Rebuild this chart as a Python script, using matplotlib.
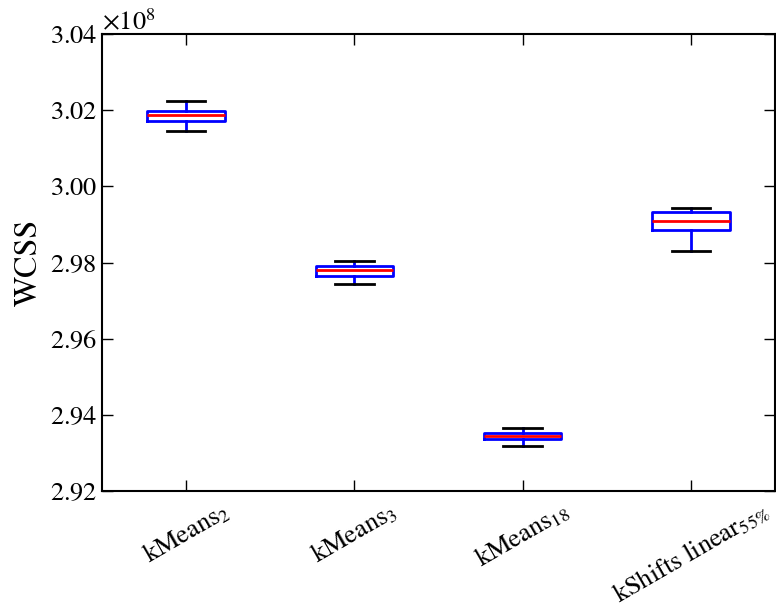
import matplotlib
matplotlib.use("Agg")
import matplotlib.pyplot as plt
from matplotlib.ticker import ScalarFormatter

plt.rcParams["font.family"] = "STIXGeneral"
plt.rcParams["mathtext.fontset"] = "stix"
plt.rcParams["font.size"] = 18

labels = [r"kMeans$_2$", r"kMeans$_3$", r"kMeans$_{18}$", r"kShifts linear$_{55\%}$"]
whislo = [3.0144e8, 2.9744e8, 2.9317e8, 2.9831e8]
q1     = [3.0172e8, 2.9765e8, 2.9337e8, 2.9885e8]
med    = [3.0188e8, 2.9780e8, 2.9345e8, 2.9909e8]
q3     = [3.0199e8, 2.9791e8, 2.9352e8, 2.9933e8]
whishi = [3.0225e8, 2.9803e8, 2.9366e8, 2.9942e8]

stats = [
    dict(label=l, whislo=a, q1=b, med=c, q3=d, whishi=e, fliers=[])
    for l, a, b, c, d, e in zip(labels, whislo, q1, med, q3, whishi)
]

fig = plt.figure(figsize=(7.76, 6.16), dpi=100)
ax = fig.add_axes([0.1314, 0.2029, 0.8673, 0.7419])

ax.bxp(
    stats,
    widths=0.46,
    boxprops=dict(color="blue", linewidth=2),
    whiskerprops=dict(color="blue", linewidth=2, linestyle="-"),
    capprops=dict(color="black", linewidth=2),
    medianprops=dict(color="red", linewidth=2),
)

ax.set_xlim(0.5, 4.5)
ax.set_ylim(2.92e8, 3.04e8)
ax.set_yticks([2.92e8, 2.94e8, 2.96e8, 2.98e8, 3.00e8, 3.02e8, 3.04e8])
fmt = ScalarFormatter(useMathText=True)
fmt.set_powerlimits((0, 0))
ax.yaxis.set_major_formatter(fmt)
ax.yaxis.get_offset_text().set_fontsize(19)

ax.set_xticks([1, 2, 3, 4])
ax.set_xticklabels(labels, rotation=30, ha="center")
ax.tick_params(direction="in", top=True, right=True, length=8, width=1, labelsize=19)
ax.tick_params(axis="x", pad=5)
for s in ax.spines.values():
    s.set_linewidth(1.5)

ax.set_ylabel("WCSS", fontsize=23)

fig.savefig("out.png", dpi=100, facecolor="white")
